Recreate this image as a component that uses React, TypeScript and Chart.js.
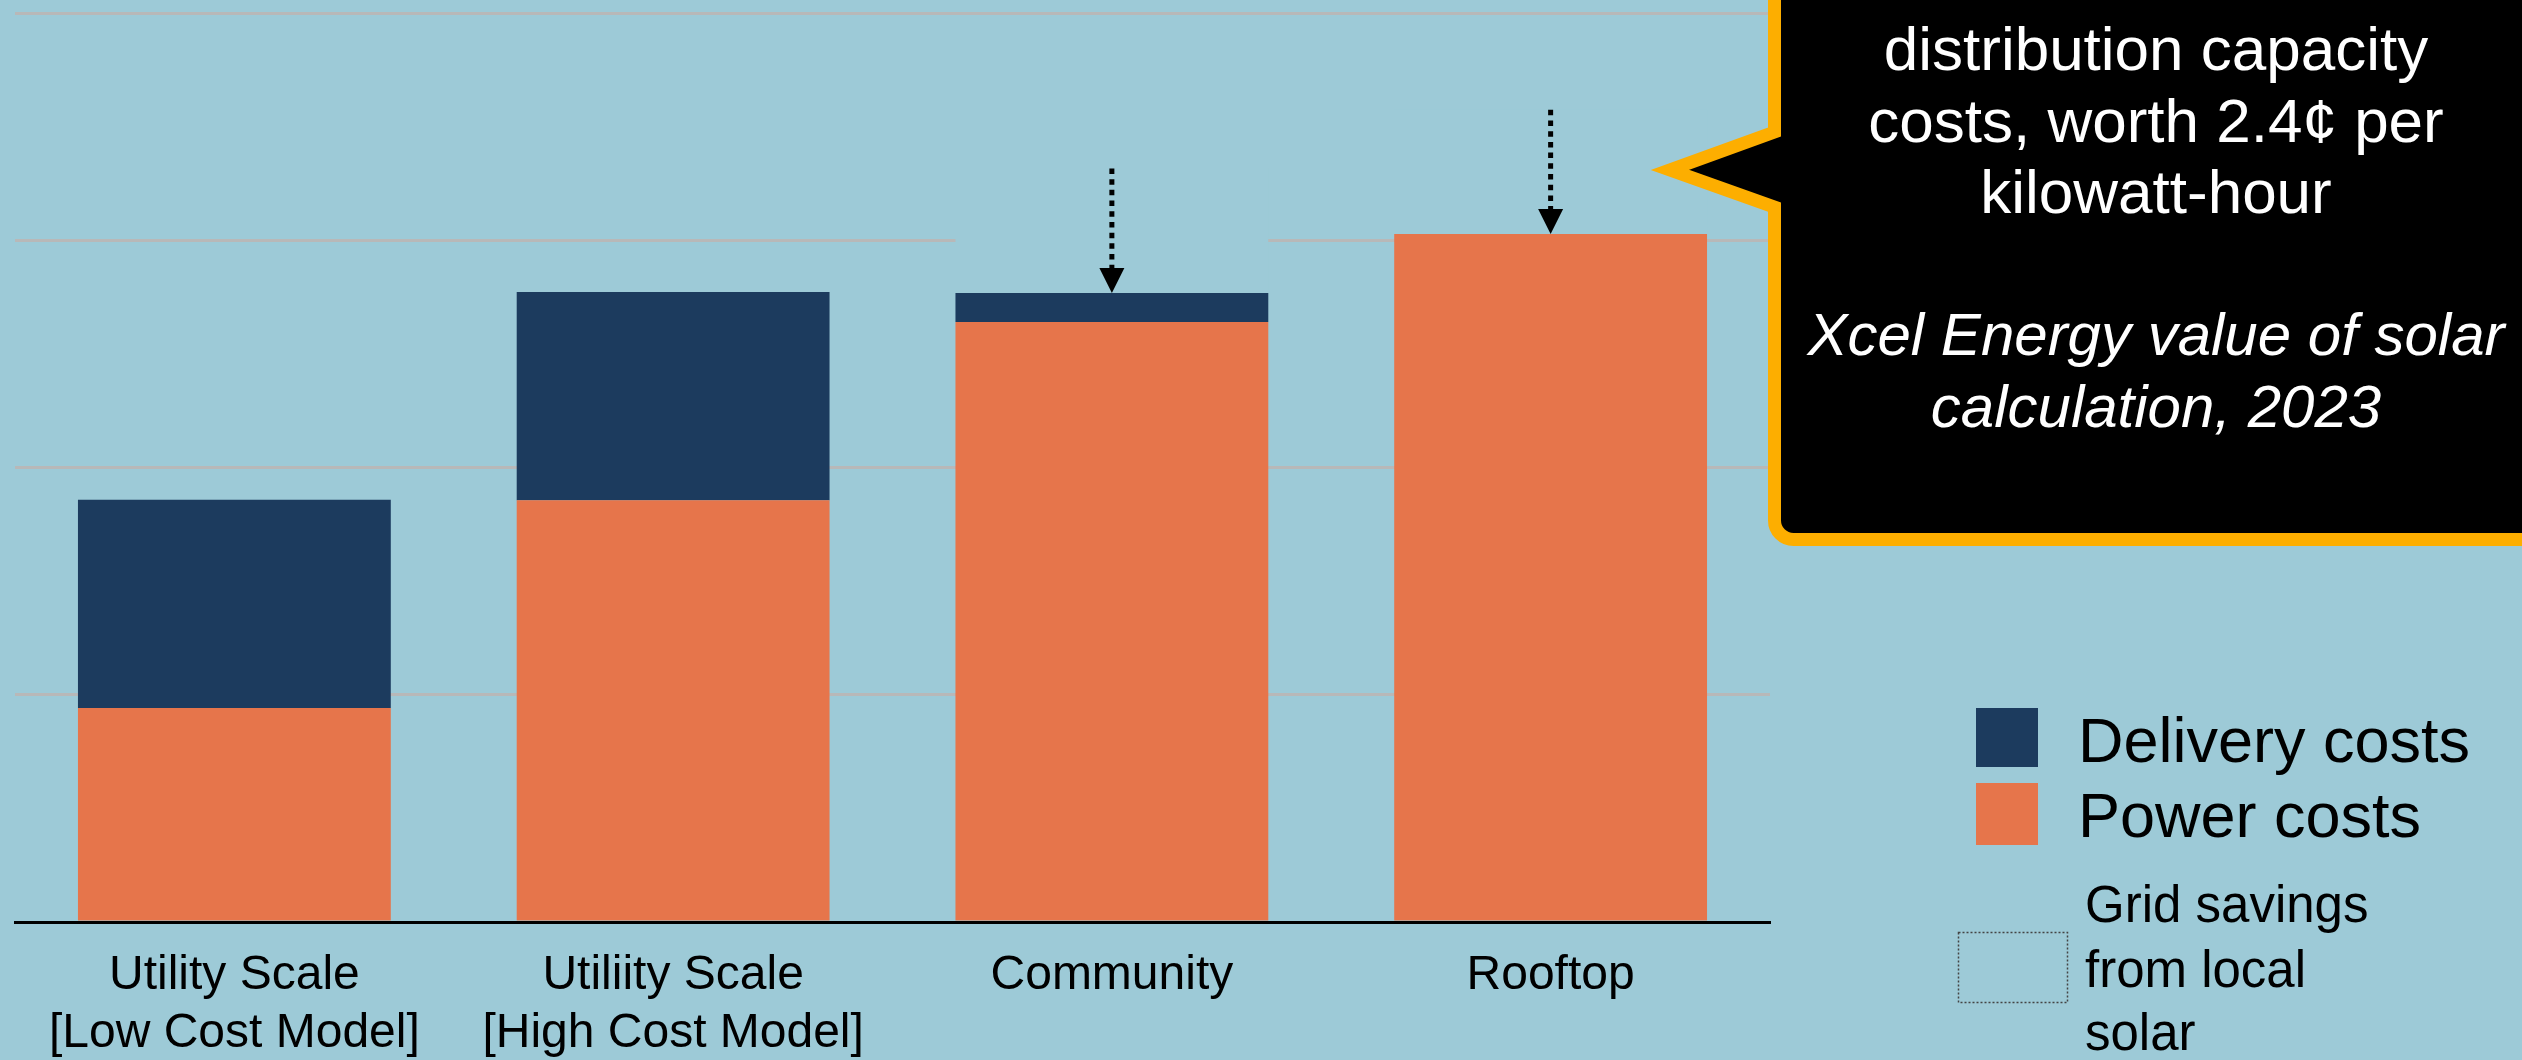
import React, { useEffect, useRef } from "react";
import { Chart, registerables } from "chart.js";

Chart.register(...registerables);

// ---- data ----
const categories: (string | string[])[] = [
  ["Utility Scale", "[Low Cost Model]"],
  ["Utiliity Scale", "[High Cost Model]"],
  "Community",
  "Rooftop",
];
const powerCosts = [4.71, 9.28, 13.2, 15.14];
const deliveryCosts = [4.58, 4.58, 0.64, 0];
const gridSavings = [0, 0, 2.74, 2.73];
const yTicks = [0, 5, 10, 15, 20];
const seriesLabels = ["Power costs", "Delivery costs", "Grid savings from local solar"];
const savingsLegendLines = ["Grid savings", "from local", "solar"];
const calloutLines = ["distribution capacity", "costs, worth 2.4¢ per", "kilowatt-hour"];
const calloutSource = ["Xcel Energy value of solar", "calculation, 2023"];

// ---- styles ----
const W = 2522;
const H = 1060;
const BG = "#9dcad7";
const DARK = "#1c3b5e";
const ORANGE = "#e6754b";
const GOLD = "#fdae00";
const GRID = "#b8b8b8";
const FONT = '"Liberation Sans", Arial, Helvetica, sans-serif';

const overlayPlugin = {
  id: "overlay",
  afterDatasetsDraw(chart: any) {
    const ctx: CanvasRenderingContext2D = chart.ctx;
    const meta = chart.getDatasetMeta(2);
    meta.data.forEach((bar: any, i: number) => {
      if (!gridSavings[i]) return;
      const x = bar.x;
      const top = bar.y;
      const base = bar.base;
      const head = 25;
      ctx.save();
      ctx.strokeStyle = "#000";
      ctx.lineWidth = 5;
      ctx.lineCap = "butt";
      ctx.setLineDash([5.5, 5.2]);
      ctx.beginPath();
      ctx.moveTo(x, top);
      ctx.lineTo(x, base - head + 2);
      ctx.stroke();
      ctx.setLineDash([]);
      ctx.fillStyle = "#000";
      ctx.beginPath();
      ctx.moveTo(x - 12.5, base - head);
      ctx.lineTo(x + 12.5, base - head);
      ctx.lineTo(x, base);
      ctx.closePath();
      ctx.fill();
      ctx.restore();
    });
  },
  afterDraw(chart: any) {
    const ctx: CanvasRenderingContext2D = chart.ctx;
    const ds = chart.data.datasets;
    ctx.save();
    // callout box with pointer
    const L = 1774.5, B = 539.5, R = 2600, T = -50, r = 19;
    ctx.lineWidth = 13;
    ctx.strokeStyle = GOLD;
    ctx.fillStyle = "#000";
    ctx.lineJoin = "miter";
    ctx.miterLimit = 10;
    ctx.beginPath();
    ctx.moveTo(R, T);
    ctx.lineTo(L, T);
    ctx.lineTo(L, 132);
    ctx.lineTo(1670, 170);
    ctx.lineTo(L, 207);
    ctx.lineTo(L, B - r);
    ctx.arcTo(L, B, L + r, B, r);
    ctx.lineTo(R, B);
    ctx.closePath();
    ctx.fill();
    ctx.stroke();

    ctx.fillStyle = "#fff";
    ctx.textAlign = "center";
    ctx.textBaseline = "alphabetic";
    ctx.font = `62px ${FONT}`;
    const cx = 2156;
    [70, 142, 213].forEach((y, i) => ctx.fillText(calloutLines[i], cx, y));
    ctx.font = `italic 60px ${FONT}`;
    [355, 427].forEach((y, i) => ctx.fillText(calloutSource[i], cx, y));

    // legend
    ctx.textAlign = "left";
    ctx.fillStyle = ds[1].backgroundColor;
    ctx.fillRect(1976, 708, 62, 59);
    ctx.fillStyle = ds[0].backgroundColor;
    ctx.fillRect(1976, 783, 62, 62);
    ctx.fillStyle = "#000";
    ctx.font = `63px ${FONT}`;
    ctx.fillText(ds[1].label, 2078, 762);
    ctx.fillText(ds[0].label, 2078, 837);

    ctx.strokeStyle = "#444";
    ctx.lineWidth = 1.5;
    ctx.setLineDash([2, 2]);
    ctx.strokeRect(1958.5, 932.5, 109, 70);
    ctx.setLineDash([]);
    ctx.fillStyle = "#000";
    ctx.font = `51px ${FONT}`;
    [922, 987, 1050].forEach((y, i) => ctx.fillText(savingsLegendLines[i], 2085, y));
    ctx.restore();
  },
};

export default function App() {
  const ref = useRef<HTMLCanvasElement>(null);
  useEffect(() => {
    const chart = new Chart(ref.current as HTMLCanvasElement, {
      type: "bar",
      data: {
        labels: categories as any,
        datasets: [
          { label: seriesLabels[0], data: powerCosts, backgroundColor: ORANGE, stack: "s", borderWidth: 0 },
          { label: seriesLabels[1], data: deliveryCosts, backgroundColor: DARK, stack: "s", borderWidth: 0 },
          { label: seriesLabels[2], data: gridSavings, backgroundColor: BG, stack: "s", borderWidth: 0 },
        ],
      },
      options: {
        animation: false,
        responsive: false,
        devicePixelRatio: 1,
        layout: { padding: { left: 15, top: 13, right: W - 1770, bottom: 0 } },
        datasets: { bar: { categoryPercentage: 1, barPercentage: 0.713 } },
        plugins: { legend: { display: false }, tooltip: { enabled: false } },
        scales: {
          x: {
            stacked: true,
            grid: { display: false, drawTicks: false },
            border: { display: true, color: "#000", width: 3 },
            ticks: {
              color: "#000",
              font: { family: FONT, size: 48, lineHeight: 1.2 },
              padding: 25,
              maxRotation: 0,
              autoSkip: false,
            },
            afterFit: (s: any) => {
              s.height = 138;
            },
          },
          y: {
            stacked: true,
            min: yTicks[0],
            max: yTicks[yTicks.length - 1],
            ticks: { display: false, stepSize: yTicks[1] - yTicks[0] },
            grid: { color: GRID, lineWidth: 3, drawTicks: false },
            border: { display: false },
          },
        },
      } as any,
      plugins: [overlayPlugin],
    });
    return () => chart.destroy();
  }, []);
  return (
    <div style={{ position: "fixed", left: 0, top: 0, width: W, height: H, background: BG, overflow: "hidden" }}>
      <canvas ref={ref} width={W} height={H} style={{ display: "block", width: W, height: H }} />
    </div>
  );
}
